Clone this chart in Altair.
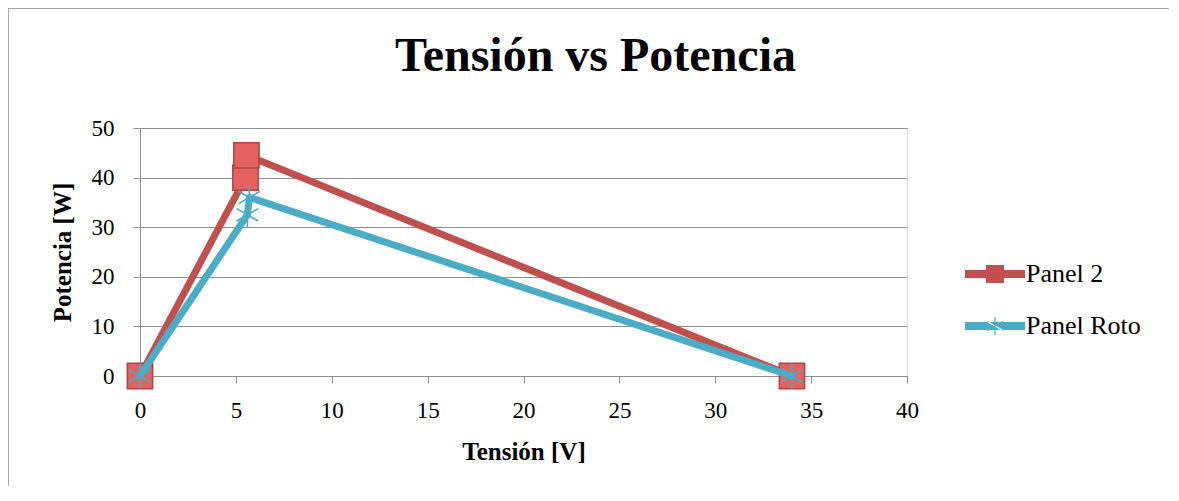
import altair as alt
import pandas as pd

series_names = ["Panel 2", "Panel Roto"]
panel2_v = [0, 5.5, 5.55, 34]
panel2_p = [0, 40, 44.5, 0]
roto_v = [0, 5.6, 5.7, 34]
roto_p = [0, 32.5, 36, 0]
x_ticks = [0, 5, 10, 15, 20, 25, 30, 35, 40]
y_ticks = [0, 10, 20, 30, 40, 50]

RED = "#C0504D"
RED_FILL = "#E2625F"
RED_EDGE = "#B0433F"
BLUE = "#4BACC6"
GRID = "#8f8f8f"
FONT = "Liberation Serif"

rows = []
for i, (v, p) in enumerate(zip(panel2_v, panel2_p)):
    rows.append({"series": series_names[0], "v": v, "p": p, "ord": i})
for i, (v, p) in enumerate(zip(roto_v, roto_p)):
    rows.append({"series": series_names[1], "v": v, "p": p, "ord": i})
df = pd.DataFrame(rows)

xs = alt.Scale(domain=[0, 40], nice=False, zero=False)
ys = alt.Scale(domain=[0, 50], nice=False)

x_axis = alt.Axis(values=x_ticks, title="Tensión [V]", grid=False, ticks=True, tickSize=7,
                  tickColor=GRID, domainColor=GRID, labelFont=FONT, labelFontSize=23,
                  labelColor="black", labelPadding=16, labelFlush=False, titleFont=FONT,
                  titleFontSize=25, titleFontWeight="bold", titleColor="black", titlePadding=17)
y_axis = alt.Axis(values=y_ticks, title="Potencia [W]", grid=True, gridColor=GRID, ticks=True,
                  tickSize=7, tickColor=GRID, domainColor=GRID, labelFont=FONT, labelFontSize=23,
                  labelColor="black", labelPadding=19, labelFlush=False, titleFont=FONT,
                  titleFontSize=25, titleFontWeight="bold", titleColor="black", titlePadding=16)

base = alt.Chart(df)

p2 = base.transform_filter(alt.datum.series == series_names[0])
pr = base.transform_filter(alt.datum.series == series_names[1])

line_red = p2.mark_line(color=RED, strokeWidth=7, strokeJoin="round", strokeCap="round").encode(
    x=alt.X("v:Q", scale=xs, axis=x_axis),
    y=alt.Y("p:Q", scale=ys, axis=y_axis),
    order="ord:Q",
)
sq_red = p2.mark_square(size=640, fill=RED_FILL, stroke=RED_EDGE, strokeWidth=1.5, opacity=1).encode(
    x="v:Q", y="p:Q"
)
line_blue = pr.mark_line(color=BLUE, strokeWidth=7, strokeJoin="round", strokeCap="round").encode(
    x="v:Q", y="p:Q", order="ord:Q"
)
star_path = "M0,-1L0,1M-0.87,-0.5L0.87,0.5M-0.87,0.5L0.87,-0.5"
star_blue = pr.mark_point(shape=star_path, size=620, stroke=BLUE, strokeWidth=1.6, filled=False,
                          opacity=1).encode(x="v:Q", y="p:Q")

leg_p2 = ("M-2,-0.27L2,-0.27L2,0.27L-2,0.27Z"
          "M-0.6,-0.6L0.6,-0.6L0.6,0.6L-0.6,0.6Z")
leg_roto = ("M-2,-0.27L2,-0.27L2,0.27L-2,0.27Z"
            "M-0.04,-0.6L0.04,-0.6L0.04,0.6L-0.04,0.6Z"
            "M-0.54,-0.27L0.5,0.33L0.54,0.27L-0.5,-0.33Z"
            "M-0.54,0.27L0.5,-0.33L0.54,-0.27L-0.5,0.33Z")

leg_props = dict(title=None, orient="none", legendX=840, legendY=131, symbolSize=900,
                 symbolOpacity=1, symbolStrokeWidth=0, labelFont=FONT, labelFontSize=26,
                 labelColor="black", labelOffset=16, rowPadding=24, padding=0)
legend_layer = base.mark_point(filled=True, opacity=0, size=900).encode(
    x="v:Q", y="p:Q",
    color=alt.Color("series:N", scale=alt.Scale(domain=series_names, range=[RED, BLUE]),
                    legend=alt.Legend(**leg_props)),
    shape=alt.Shape("series:N", scale=alt.Scale(domain=series_names, range=[leg_p2, leg_roto]),
                    legend=alt.Legend(**leg_props)),
)

border_data = alt.Data(values=[{"k": 1}])
border_left = alt.Chart(border_data).mark_rule(color="#a6a6a6", strokeWidth=2).encode(
    x=alt.value(-132), y=alt.value(-120), y2=alt.value(400)
)
border_top = alt.Chart(border_data).mark_rule(color="#a6a6a6", strokeWidth=2).encode(
    x=alt.value(-132), x2=alt.value(1030), y=alt.value(-120)
)

chart = alt.layer(
    line_red, sq_red, line_blue, star_blue, legend_layer, border_left, border_top
).properties(
    width=767, height=248,
    title=alt.TitleParams("Tensión vs Potencia", font=FONT, fontSize=48, fontWeight="bold",
                          color="black", anchor="middle", dx=72, offset=-112, baseline="alphabetic",
                          frame="group"),
    padding={"left": 132, "top": 120, "right": 262, "bottom": 110},
    autosize=alt.AutoSizeParams(type="none"),
).configure_view(stroke=None).configure(background="white")

chart.save("out.html", embed_options={"renderer": "svg", "actions": False})
